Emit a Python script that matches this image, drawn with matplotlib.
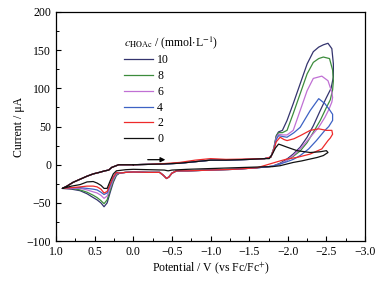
import matplotlib
matplotlib.use('Agg')
import matplotlib.pyplot as plt
import numpy as np

plt.rcParams['font.family'] = ['Liberation Serif', 'DejaVu Serif']
plt.rcParams['mathtext.fontset'] = 'stix'
plt.rcParams['font.size'] = 8.5

# shared parts of the scans (potential V, current uA)
fwd_v = [0.0, -0.2, -0.4, -0.6, -0.8, -1.0, -1.2, -1.5, -1.7]
fwd_i = [0.0, 0.5, 1.0, 2.0, 4.0, 6.0, 6.0, 7.0, 8.0]
ret_v = [-1.6, -1.3, -1.0, -0.7, -0.56, -0.5, -0.46, -0.43, -0.39, -0.34, -0.2, 0.0, 0.1, 0.18]
ret_i = [-4, -6, -7, -8, -8, -11, -16, -18, -14, -10, -10, -9.5, -10, -11]
blk_ret_v = [-1.6, -1.3, -1.0, -0.7, -0.5, -0.45, -0.4, -0.2, 0.0, 0.1, 0.18]
blk_ret_i = [-3, -4, -5, -6, -7, -8, -7, -6.5, -6, -6.5, -7.5]
back_v = [0.92, 0.86, 0.78, 0.69, 0.6, 0.52, 0.44, 0.37, 0.32, 0.28, 0.19, 0.1, 0.0]
back_i = [-31, -28, -23, -19, -15, -12, -10, -8, -7, -3.5, 0, 0, 0]

# catalytic wave region, per concentration
navy_v = [-1.78, -1.82, -1.85, -1.88, -1.93, -1.99, -2.07, -2.16, -2.25, -2.33, -2.4, -2.46, -2.52, -2.57, -2.59, -2.59,
          -2.56, -2.5, -2.42, -2.33, -2.25, -2.16, -2.07, -1.99, -1.9, -1.8]
navy_i = [10, 22, 38, 43, 45, 58, 80, 106, 132, 148, 154, 157, 159, 152, 132, 115,
          100, 88, 71, 51, 36, 23, 14, 7.5, 2, -2]
green_v = [-1.78, -1.82, -1.85, -1.88, -1.93, -1.99, -2.07, -2.16, -2.25, -2.33, -2.4, -2.46, -2.54, -2.58, -2.59, -2.58,
           -2.55, -2.5, -2.42, -2.33, -2.25, -2.16, -2.07, -1.99, -1.9, -1.8]
green_i = [10, 22, 37, 42, 42, 45, 67, 93, 119, 134, 139, 141, 139, 124, 110, 98,
           85, 75, 58, 42.5, 29, 18, 11, 6, 1, -2]
pink_v = [-1.78, -1.82, -1.85, -1.88, -1.93, -1.99, -2.07, -2.16, -2.25, -2.33, -2.44, -2.52, -2.57, -2.58, -2.57,
          -2.53, -2.48, -2.4, -2.29, -2.18, -2.08, -1.99, -1.9, -1.8]
pink_i = [10, 21, 35, 40, 39, 39, 45, 71, 97, 113, 116, 110, 95, 88, 82,
          72, 62, 49, 36, 23, 13, 6, 1, -2]
blue_v = [-1.78, -1.82, -1.85, -1.88, -1.93, -1.99, -2.08, -2.16, -2.29, -2.4, -2.48, -2.54, -2.58, -2.58,
          -2.53, -2.48, -2.37, -2.27, -2.16, -2.07, -1.99, -1.9, -1.8]
blue_i = [10, 20, 33, 38, 37, 36, 42, 49, 71, 86.5, 80, 72, 66, 58,
          50, 45, 31.6, 20.7, 12, 7, 4, 1, -2]
red_v = [-1.78, -1.82, -1.85, -1.9, -1.95, -1.99, -2.08, -2.16, -2.29, -2.4, -2.5, -2.57, -2.58,
         -2.55, -2.52, -2.44, -2.29, -2.12, -1.99, -1.9, -1.8, -1.7]
red_i = [10, 20, 30, 36, 33, 31.6, 34, 38, 45, 47, 45, 45, 40,
         35, 31.6, 20.7, 14, 9.6, 7.5, 5, 2, -1]
black_v = [-1.76, -1.8, -1.84, -1.88, -1.91, -1.99, -2.12, -2.29, -2.42, -2.5, -2.52,
           -2.46, -2.38, -2.29, -2.18, -2.07, -1.99, -1.9, -1.8]
black_i = [8, 14, 22, 27, 26, 23, 18.4, 16, 17, 18.4, 16,
           12, 9.5, 7.5, 5, 3, 1, -1.3, -2.5]

# oxidation peak near +0.35 V
ox_v = [0.22, 0.26, 0.3, 0.34, 0.38, 0.42, 0.47, 0.52, 0.6, 0.69, 0.8]
navy_ox = [-14, -23, -36, -50, -55, -50, -46, -43, -38, -34, -32]
green_ox = [-13, -21, -33, -46, -51, -47, -43, -40, -36, -33, -31]
pink_ox = [-12, -19, -30, -41, -44, -40, -37, -35.5, -33, -31, -31]
blue_ox = [-11, -17, -27, -37, -39, -36, -33, -32, -31, -30, -30]
red_ox = [-10, -16, -25, -35, -37, -32, -29, -28, -28, -29, -30]
black_ox = [-8, -12, -21, -31, -31, -27, -24, -22, -22.5, -26, -28]

labels = ['10', '8', '6', '4', '2', '0']
colors = ['#34346e', '#3c8c3c', '#c070d4', '#3d62c4', '#ee2a2a', '#111111']

# red sits a little higher on the forward plateau
red_fwd_i = [0.0, 0.5, 1.5, 3.0, 6.0, 8.0, 7.0, 7.5, 8.0]


fig = plt.figure(figsize=(3.9, 2.85), dpi=100)
ax = fig.add_axes([0.144, 0.154, 0.792, 0.804])

series = [(navy_v, navy_i, navy_ox), (green_v, green_i, green_ox), (pink_v, pink_i, pink_ox),
          (blue_v, blue_i, blue_ox), (red_v, red_i, red_ox), (black_v, black_i, black_ox)]
for k, (mv, mi, oi) in enumerate(series):
    fi = red_fwd_i if labels[k] == '2' else fwd_i
    if labels[k] == '0':
        rv, ri = blk_ret_v, blk_ret_i
    else:
        rv, ri = ret_v, ret_i
    v = fwd_v + mv + rv + ox_v + back_v
    i = fi + mi + ri + oi + back_i
    ax.plot(v, i, color=colors[k], lw=0.9, label=labels[k])

ax.annotate('', xy=(-0.45, 6.6), xytext=(-0.15, 6.6),
            arrowprops=dict(arrowstyle='-|>', color='black', lw=0.9, mutation_scale=7))

ax.set_xlim(1.0, -3.0)
ax.set_ylim(-100, 200)
ax.set_xticks(np.arange(1.0, -3.01, -0.5))
ax.set_xticklabels(['1.0', '0.5', '0.0', '\u22120.5', '\u22121.0', '\u22121.5', '\u22122.0', '\u22122.5', '\u22123.0'])
ax.set_yticks(np.arange(-100, 201, 50))
ax.set_yticklabels(['\u2212100', '\u221250', '0', '50', '100', '150', '200'])
ax.set_xticks(np.arange(0.75, -3.0, -0.5), minor=True)
ax.set_yticks(np.arange(-75, 200, 50), minor=True)
ax.tick_params(which='both', direction='in', top=False, right=False)
ax.tick_params(which='major', length=3.5, width=0.8)
ax.tick_params(which='minor', length=2, width=0.7)
for s in ax.spines.values():
    s.set_linewidth(0.9)

ax.set_xlabel('Potential / V (vs Fc/Fc$^{+}$)', labelpad=2)
ax.set_ylabel('Current / \u03bcA', labelpad=1)

leg = ax.legend(title='$c_{\\mathrm{HOAc}}$ / (mmol$\\cdot$L$^{-1}$)', frameon=False,
                loc='upper left', bbox_to_anchor=(0.205, 0.925), handlelength=2.4,
                labelspacing=0.32, handletextpad=0.4, alignment='left', fontsize=8.5,
                title_fontsize=8.5, borderaxespad=0)

fig.savefig('out.png', dpi=100)
